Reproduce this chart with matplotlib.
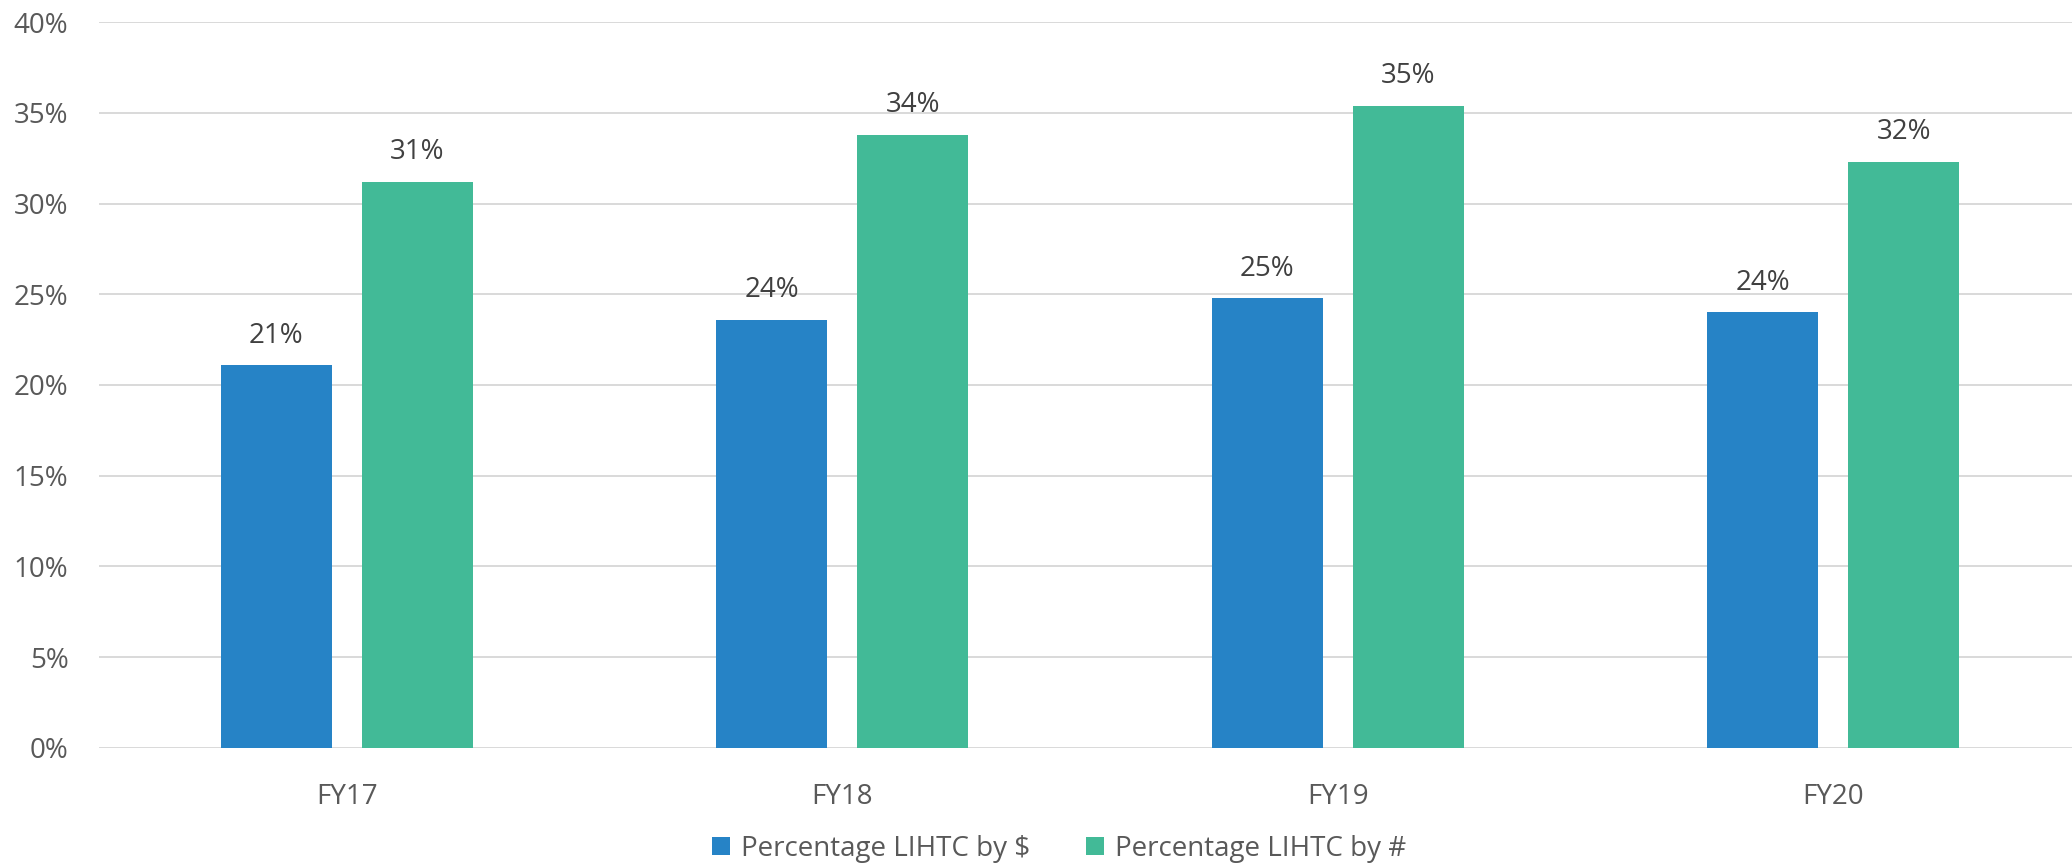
import matplotlib.pyplot as plt
import numpy as np

plt.rcParams['font.family'] = ['Open Sans', 'DejaVu Sans']

categories = ['FY17', 'FY18', 'FY19', 'FY20']
pct_dollars = [21.1, 23.6, 24.8, 24.0]
pct_count = [31.2, 33.8, 35.4, 32.3]
dollar_labels = ['21%', '24%', '25%', '24%']
count_labels = ['31%', '34%', '35%', '32%']
yticks = [0, 5, 10, 15, 20, 25, 30, 35, 40]

blue = '#2683C6'
green = '#42BA97'

fig = plt.figure(figsize=(20.72, 8.67), dpi=100)
ax = fig.add_axes([99 / 2072, 0.1373, (2081 - 99) / 2072, 0.9746 - 0.1373])

x = np.arange(len(categories))
w = 0.224
off = 0.1425
b1 = ax.bar(x - off, pct_dollars, w, color=blue, label='Percentage LIHTC by $', zorder=3)
b2 = ax.bar(x + off, pct_count, w, color=green, label='Percentage LIHTC by #', zorder=3)

for bars, labs in [(b1, dollar_labels), (b2, count_labels)]:
    for bar, lab in zip(bars, labs):
        ax.annotate(lab, (bar.get_x() + bar.get_width() / 2, bar.get_height()),
                    xytext=(0, 11), textcoords='offset points',
                    ha='center', va='bottom', fontsize=20, color='#404040')

ax.set_ylim(0, 40)
ax.set_xlim(-0.5, 3.5)
ax.set_yticks(yticks)
ax.set_yticklabels([f'{t}%' for t in yticks])
ax.set_xticks(x)
ax.set_xticklabels(categories)
ax.tick_params(axis='y', length=0, pad=22, labelsize=20, labelcolor='#595959')
ax.tick_params(axis='x', length=0, pad=25, labelsize=20, labelcolor='#595959')
ax.grid(axis='y', color='#D9D9D9', linewidth=1.4, zorder=0)
for s in ax.spines.values():
    s.set_visible(False)

fig.legend(handles=[b1, b2], loc='center', bbox_to_anchor=(0.511, 0.021), ncol=2,
           frameon=False, fontsize=20, labelcolor='#595959', handlelength=0.65,
           handleheight=0.65, columnspacing=2.0, handletextpad=0.4)

fig.savefig('out.png', dpi=100)
